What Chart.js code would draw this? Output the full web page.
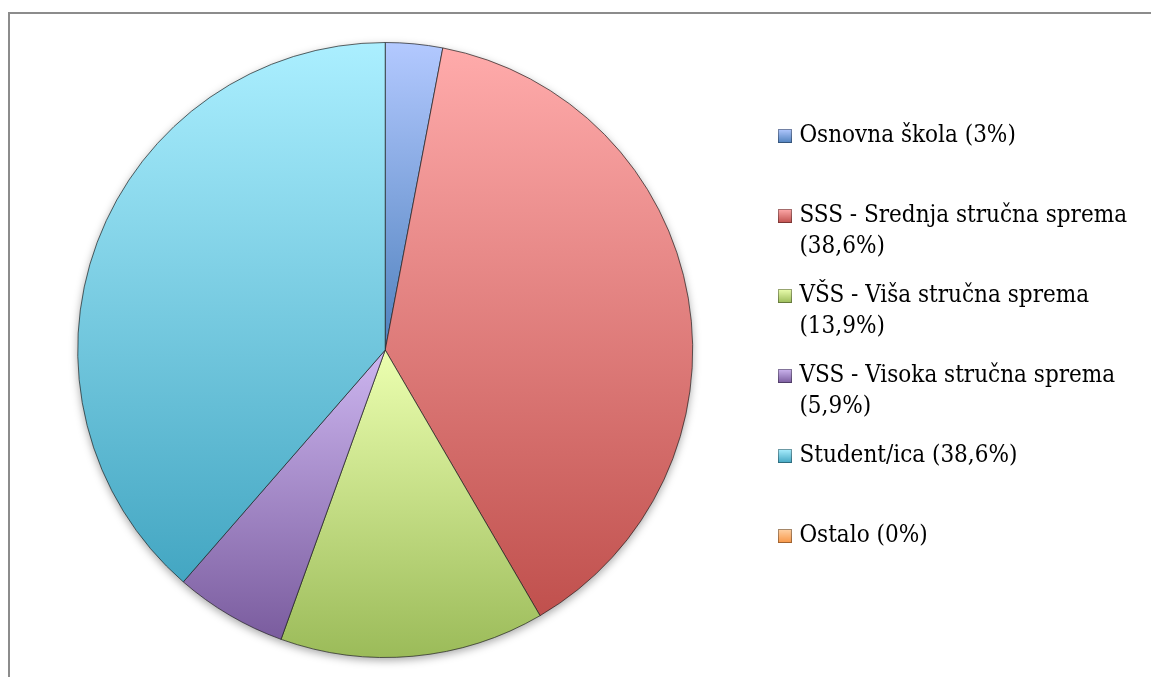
<!DOCTYPE html>
<html lang="hr">
<head>
  <meta charset="UTF-8">
  <title>Stručna sprema</title>
  <script src="https://cdn.jsdelivr.net/npm/chart.js"></script>
  <style>
    body { margin: 0; background: #fff; overflow: hidden; }
    #frame { position: absolute; left: 8px; top: 12px; width: 1150px; height: 670px;
             border-top: 2px solid #8c8c8c; border-left: 2px solid #8c8c8c; }
    #chart { position: absolute; left: 0; top: 0; }
  </style>
</head>
<body>
  <div id="frame"></div>
  <canvas id="chart" width="1151" height="677"></canvas>
  <script>
    // podaci
    const categories = ['Osnovna škola', 'SSS - Srednja stručna sprema', 'VŠS - Viša stručna sprema',
                        'VSS - Visoka stručna sprema', 'Student/ica', 'Ostalo'];
    const values = [3, 38.6, 13.9, 5.9, 38.6, 0];
    const legendLines = [
      ['Osnovna škola (3%)'],
      ['SSS - Srednja stručna sprema', '(38,6%)'],
      ['VŠS - Viša stručna sprema', '(13,9%)'],
      ['VSS - Visoka stručna sprema', '(5,9%)'],
      ['Student/ica (38,6%)'],
      ['Ostalo (0%)']
    ];

    // boje (gore svijetlo, dolje tamno)
    const colorTop = ['#b3c9ff', '#ffabab', '#ecffb0', '#cdb6f0', '#abefff', '#ffd2a6'];
    const colorBottom = ['#4f81bd', '#c0504d', '#9bbb59', '#7a5c9e', '#43a6c2', '#f79646'];

    function sliceGradient(ctx) {
      const chart = ctx.chart;
      const area = chart.chartArea;
      const i = ctx.dataIndex;
      if (!area) return colorBottom[i];
      const total = values.reduce((a, b) => a + b, 0);
      let before = 0;
      for (let k = 0; k < i; k++) before += values[k];
      const a0 = -Math.PI / 2 + 2 * Math.PI * before / total;
      const a1 = a0 + 2 * Math.PI * values[i] / total;
      const ys = [0, Math.sin(a0), Math.sin(a1)];
      if (a0 < Math.PI / 2 && a1 > Math.PI / 2) ys.push(1);
      const cy = (area.top + area.bottom) / 2;
      const r = Math.min(area.width, area.height) / 2;
      const y0 = cy + r * Math.min(...ys), y1 = cy + r * Math.max(...ys);
      if (y1 - y0 < 1) return colorBottom[i];
      const g = chart.ctx.createLinearGradient(0, y0, 0, y1);
      g.addColorStop(0, colorTop[i]);
      g.addColorStop(1, colorBottom[i]);
      return g;
    }

    // male ikone za legendu
    function makeMarker(i) {
      const c = document.createElement('canvas');
      c.width = 14; c.height = 14;
      const x = c.getContext('2d');
      const g = x.createLinearGradient(0, 0, 0, 14);
      g.addColorStop(0, colorTop[i]);
      g.addColorStop(1, colorBottom[i]);
      x.fillStyle = g;
      x.fillRect(0, 0, 14, 14);
      x.strokeStyle = 'rgba(0,0,0,0.35)';
      x.strokeRect(0.5, 0.5, 13, 13);
      return c;
    }
    const markers = categories.map((_, i) => makeMarker(i));

    // sjena ispod kruga
    const pieShadow = {
      id: 'pieShadow',
      beforeDatasetsDraw(chart) {
        const arc = chart.getDatasetMeta(0).data[0];
        if (!arc) return;
        const ctx = chart.ctx;
        ctx.save();
        ctx.shadowColor = 'rgba(0,0,0,0.35)';
        ctx.shadowBlur = 8;
        ctx.shadowOffsetY = 3;
        ctx.fillStyle = '#fff';
        ctx.beginPath();
        ctx.arc(arc.x, arc.y, arc.outerRadius, 0, Math.PI * 2);
        ctx.fill();
        ctx.restore();
      }
    };

    new Chart(document.getElementById('chart'), {
      type: 'pie',
      data: {
        labels: categories,
        datasets: [{
          data: values,
          backgroundColor: sliceGradient,
          borderColor: 'rgba(30,30,30,0.7)',
          borderWidth: 1
        }]
      },
      options: {
        responsive: false,
        animation: false,
        layout: { padding: { left: 6, top: 42, bottom: 19, right: 14 } },
        plugins: {
          tooltip: { enabled: false },
          legend: {
            position: 'right',
            align: 'center',
            title: { display: true, text: '', font: { size: 10, lineHeight: 1 }, padding: 0 },
            labels: {
              color: '#000',
              font: { family: "'DejaVu Serif Condensed', 'DejaVu Serif'", size: 24, lineHeight: 31 / 24 },
              boxWidth: 5,
              boxHeight: 14,
              padding: 18,
              usePointStyle: true,
              generateLabels: () => legendLines.map((lines, i) => ({
                text: lines.length > 1 ? lines : [lines[0], ''],
                pointStyle: markers[i],
                fillStyle: colorBottom[i],
                strokeStyle: 'transparent',
                fontColor: '#000',
                lineWidth: 0,
                hidden: false,
                index: i
              }))
            }
          }
        }
      },
      plugins: [pieShadow]
    });
  </script>
</body>
</html>
